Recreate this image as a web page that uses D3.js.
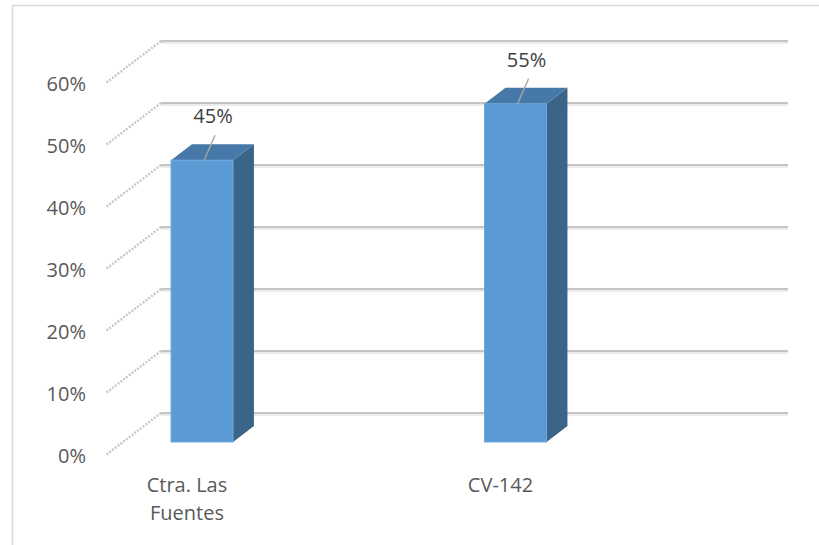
<!DOCTYPE html>
<html><head><meta charset="utf-8">
<script src="https://cdn.jsdelivr.net/npm/d3@7/dist/d3.min.js"></script>
<style>html,body{margin:0;padding:0;background:#fff;}svg{display:block;font-family:"Open Sans",sans-serif;}</style>
</head><body>
<script>
const categories = [["Ctra. Las","Fuentes"],["CV-142"]];
const catKeys = ["Ctra. Las Fuentes","CV-142"];
const values = [0.4545, 0.5455];
const tickValues = [0,0.1,0.2,0.3,0.4,0.5,0.6];

const W=819,H=545;
const svg=d3.select("body").append("svg").attr("width",W).attr("height",H);
svg.append("rect").attr("x",12.5).attr("y",5.5).attr("width",W+10).attr("height",H+10)
  .attr("fill","#fff").attr("stroke","#D9D9D9").attr("stroke-width",1.5);

const y=d3.scaleLinear().domain([0,0.6]).range([413,41]);
const backX0=161, backX1=788;
const DX=-55, DY=42;
const fmt=d3.format(".0%");
const x=d3.scalePoint().domain(catKeys).range([185,498.5]);

const g=svg.append("g");
tickValues.forEach(t=>{
  g.append("line").attr("x1",backX0).attr("x2",backX1).attr("y1",y(t)+2).attr("y2",y(t)+2)
    .attr("stroke","#EBEBEB").attr("stroke-width",2);
  g.append("line").attr("x1",backX0).attr("x2",backX1).attr("y1",y(t)).attr("y2",y(t))
    .attr("stroke","#C4C4C4").attr("stroke-width",2);
  g.append("line").attr("x1",backX0).attr("y1",y(t)).attr("x2",backX0+DX).attr("y2",y(t)+DY)
    .attr("stroke","#C9C9C9").attr("stroke-width",2.5).attr("stroke-dasharray","2,1.5");
  g.append("text").attr("x",86).attr("y",y(t)+DY+8).attr("text-anchor","end")
    .attr("font-size",20).attr("fill","#595959").text(fmt(t));
});

const fFront=0.69, fBack=0.31, barW=62;
catKeys.forEach((k,i)=>{
  const v=values[i];
  const cx=x(k);
  const left=cx + (1-fFront)*(-DX) - barW/2, right=left+barW;
  const yb=y(0)+fFront*DY, yt=y(v)+fFront*DY;
  const ddx=(fFront-fBack)*(-DX), ddy=(fFront-fBack)*(-DY);
  svg.append("polygon").attr("points",[[right,yb],[right+ddx,yb+ddy],[right+ddx,yt+ddy],[right,yt]].join(" "))
    .attr("fill","#3A6589");
  svg.append("polygon").attr("points",[[left,yt],[left+ddx,yt+ddy],[right+ddx,yt+ddy],[right,yt]].join(" "))
    .attr("fill","#4779A8");
  svg.append("rect").attr("x",left).attr("y",yt).attr("width",barW).attr("height",yb-yt)
    .attr("fill","#5B9BD5").attr("stroke","#6DA6DB").attr("stroke-width",1);
  const mx=(left+right)/2;
  svg.append("line").attr("x1",mx+2).attr("y1",yt).attr("x2",mx+13).attr("y2",yt-25)
    .attr("stroke","#A6A6A6").attr("stroke-width",1.4);
  svg.append("text").attr("x",mx+11).attr("y",yt-37).attr("text-anchor","middle")
    .attr("font-size",20).attr("fill","#404040").text(fmt(Math.round(v*100)/100));
  const t=svg.append("text").attr("text-anchor","middle").attr("font-size",20).attr("fill","#595959");
  categories[i].forEach((ln,j)=>t.append("tspan").attr("x",cx+2).attr("y",492+j*28).text(ln));
});
</script>
</body></html>
